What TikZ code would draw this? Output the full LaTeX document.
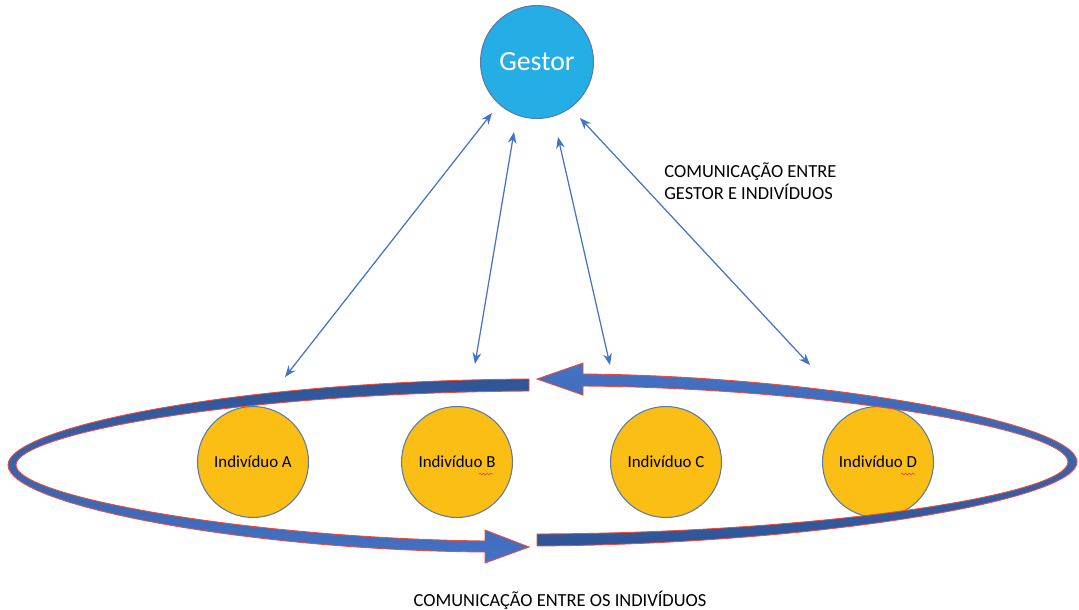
\documentclass[tikz,border=0pt]{standalone}
\usepackage{fontspec}
\setmainfont{Carlito}
\usetikzlibrary{arrows.meta,decorations.pathmorphing}

\definecolor{gestorblue}{HTML}{25AEE5}
\definecolor{ringdark}{HTML}{2F5597}
\definecolor{ringlight}{HTML}{4472C4}
\definecolor{gold}{HTML}{FBBE14}
\definecolor{edgeblue}{HTML}{5B7BA6}
\definecolor{ringred}{HTML}{F04A3C}

\tikzset{
  gestor/.style={circle, fill=gestorblue, draw=edgeblue, line width=0.6pt,
    minimum size=2.26cm, inner sep=0pt, text=white,
    font=\fontsize{15.8}{18}\selectfont},
  indiv/.style={circle, fill=gold, draw=edgeblue, line width=0.6pt,
    minimum size=2.22cm, inner sep=0pt, font=\fontsize{9.6}{11}\selectfont},
  link/.style={{Stealth[length=6.5pt,width=5pt]}-{Stealth[length=6.5pt,width=5pt]},
    ringlight, line width=0.7pt},
  ring/.style={draw=ringred, line width=0.5pt},
  squiggle/.style={ringred, line width=0.4pt, decorate,
    decoration={snake, amplitude=0.5pt, segment length=2pt}},
  note/.style={font=\fontsize{10.5}{12.5}\selectfont, align=left, inner sep=0pt}
}

\begin{document}
\begin{tikzpicture}[x=0.02cm, y=-0.02cm]
    \useasboundingbox (0,0) rectangle (1079,609);
    % Circles
    \node[gestor] (g) at (537,62) {Gestor};
    \node[indiv] (a) at (253,462) {Indivíduo A};
    \node[indiv] (b) at (457,462) {Indivíduo B};
    \node[indiv] (c) at (666,462) {Indivíduo C};
    \node[indiv] (d) at (878,462) {Indivíduo D};
    % Ends of the links
    \coordinate (g1) at (492,113);
    \coordinate (g2) at (514,132);
    \coordinate (g3) at (558,137);
    \coordinate (g4) at (580,118);
    \coordinate (a1) at (285,377);
    \coordinate (b1) at (475,364);
    \coordinate (c1) at (610,365);
    \coordinate (d1) at (810,365);
    % Links
    \draw[link] (g1) -- (a1);
    \draw[link] (g2) -- (b1);
    \draw[link] (g3) -- (c1);
    \draw[link] (g4) -- (d1);
    % Ring, left half
    \shade[ring, top color=ringdark, bottom color=ringlight]
      (529,379) -- (529,391)
      .. controls (230,393) and (16,435) .. (16,465)
      .. controls (16,497) and (250,538) .. (485,541)
      -- (485,530) -- (529,547) -- (485,563) -- (485,552)
      .. controls (245,550) and (8,505) .. (8,465)
      .. controls (8,428) and (230,381) .. (529,379) -- cycle;
    % Ring, right half
    \shade[ring, top color=ringlight, bottom color=ringdark]
      (537,534) -- (537,546)
      .. controls (820,544) and (1077,500) .. (1077,462)
      .. controls (1077,422) and (820,376) .. (583,374)
      -- (583,363) -- (537,379) -- (583,395) -- (583,386)
      .. controls (820,388) and (1068,428) .. (1068,462)
      .. controls (1068,495) and (820,533) .. (537,534) -- cycle;
    % Marks
    \draw[squiggle] (479,474) -- (493,474);
    \draw[squiggle] (901,474) -- (915,474);
    % Labels
    \node[note, anchor=north west] (top) at (664,162)
      {COMUNICAÇÃO ENTRE\\GESTOR E INDIVÍDUOS};
    \node[note, anchor=base] (bottom) at (560,606)
      {COMUNICAÇÃO ENTRE OS INDIVÍDUOS};
\end{tikzpicture}
\end{document}
